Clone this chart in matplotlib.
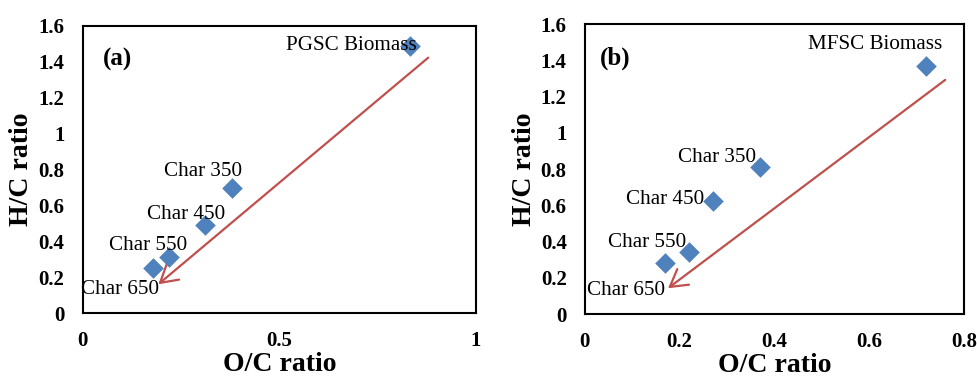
import matplotlib
matplotlib.use("Agg")
import matplotlib.pyplot as plt
from matplotlib.patches import FancyArrowPatch

plt.rcParams["font.family"] = ["Liberation Serif", "DejaVu Serif"]

# Van Krevelen data, panel (a)
labels_a = ["PGSC Biomass", "Char 350", "Char 450", "Char 550", "Char 650"]
oc_a = [0.831, 0.380, 0.310, 0.220, 0.180]
hc_a = [1.488, 0.698, 0.489, 0.314, 0.253]
arrow_a = [(0.884, 1.432), (0.187, 0.150)]

# Van Krevelen data, panel (b)
labels_b = ["MFSC Biomass", "Char 350", "Char 450", "Char 550", "Char 650"]
oc_b = [0.719, 0.370, 0.270, 0.220, 0.169]
hc_b = [1.372, 0.810, 0.622, 0.341, 0.284]
arrow_b = [(0.765, 1.302), (0.171, 0.133)]

xticks_a = [0, 0.5, 1]
xticklabels_a = ["0", "0.5", "1"]
xticks_b = [0, 0.2, 0.4, 0.6, 0.8]
xticklabels_b = ["0", "0.2", "0.4", "0.6", "0.8"]
yticks = [0, 0.2, 0.4, 0.6, 0.8, 1.0, 1.2, 1.4, 1.6]
yticklabels = ["0", "0.2", "0.4", "0.6", "0.8", "1", "1.2", "1.4", "1.6"]

# label offsets (pixels) of the right-edge/center anchor relative to each point
offs_a = [(7, 0), (10, 16), (21, 11), (18, 11), (6, -22)]
offs_b = [(17, 21), (-4, 10), (-9, 2), (-3, 10), (0, -28)]

BLUE = "#4F81BD"
RED = "#C0504D"

fig = plt.figure(figsize=(9.77, 3.79), dpi=100)
ax_a = fig.add_axes([0.0846, 0.1741, 0.4026, 0.7581])
ax_b = fig.add_axes([0.5985, 0.1715, 0.3882, 0.7644])


def draw(ax, oc, hc, labels, offs, arrow, xmax, xticks, xticklabels, tag, tag_x):
    ax.scatter(oc, hc, marker="D", s=110, color=BLUE, zorder=3, linewidths=0)
    for x, y, lab, (dx, dy) in zip(oc, hc, labels, offs):
        ax.annotate(lab, (x, y), xytext=(dx * 0.72, dy * 0.72),
                    textcoords="offset points", ha="right", va="center",
                    fontsize=15.2, zorder=4)
    arr = FancyArrowPatch(arrow[0], arrow[1], arrowstyle="->,head_length=0.6,head_width=0.35",
                          mutation_scale=20, color=RED, lw=1.6, zorder=2)
    ax.add_patch(arr)
    ax.set_xlim(0, xmax)
    ax.set_ylim(0, 1.6)
    ax.set_xticks(xticks)
    ax.set_xticklabels(xticklabels)
    ax.set_yticks(yticks)
    ax.set_yticklabels(yticklabels)
    ax.tick_params(length=0, labelsize=15)
    ax.tick_params(axis="y", pad=13)
    ax.tick_params(axis="x", pad=13)
    for t in ax.get_xticklabels() + ax.get_yticklabels():
        t.set_fontweight("bold")
    for sp in ax.spines.values():
        sp.set_linewidth(1.5)
        sp.set_color("black")
    ax.set_xlabel("O/C ratio", fontsize=20, fontweight="bold", labelpad=1)
    ax.set_ylabel("H/C ratio", fontsize=20, fontweight="bold", labelpad=3)
    ax.text(tag_x, 0.882, tag, transform=ax.transAxes, fontsize=18,
            fontweight="bold", ha="left", va="center")


draw(ax_a, oc_a, hc_a, labels_a, offs_a, arrow_a, 1.0, xticks_a, xticklabels_a, "(a)", 0.052)
draw(ax_b, oc_b, hc_b, labels_b, offs_b, arrow_b, 0.8, xticks_b, xticklabels_b, "(b)", 0.04)

fig.savefig("out.png", dpi=100)
